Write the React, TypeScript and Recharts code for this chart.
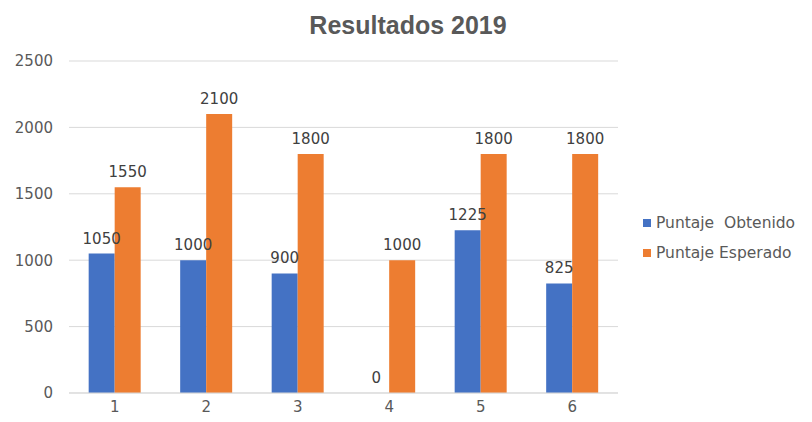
import { BarChart, Bar, XAxis, YAxis, CartesianGrid, Legend, LabelList } from "recharts";

const categories = ["1", "2", "3", "4", "5", "6"];
const obtenido = [1050, 1000, 900, 0, 1225, 825];
const esperado = [1550, 2100, 1800, 1000, 1800, 1800];
const yTicks = [0, 500, 1000, 1500, 2000, 2500];

const seriesNames = ["Puntaje  Obtenido", "Puntaje Esperado"];
const seriesColors = ["#4472C4", "#ED7D31"];

const data = categories.map((c, i) => ({
  name: c,
  obtenido: obtenido[i],
  esperado: esperado[i],
}));

const FONT = "'DejaVu Sans', sans-serif";

// simple two-row legend like the Excel one
const LegendBox = () => (
  <div style={{ fontFamily: FONT, fontSize: 15.5, color: "#595959" }}>
    {seriesNames.map((n, i) => (
      <div key={n} style={{ display: "flex", alignItems: "center", height: 30 }}>
        <span style={{ width: 8, height: 8, background: seriesColors[i], marginRight: 5, marginLeft: 3 }} />
        <span style={{ whiteSpace: "pre" }}>{n}</span>
      </div>
    ))}
  </div>
);

export default function App() {
  return (
    <div style={{ position: "absolute", left: 0, top: 0, width: 812, height: 422, background: "#fff" }}>
      <div
        style={{
          position: "absolute",
          top: 11,
          left: 0,
          width: 816,
          textAlign: "center",
          fontFamily: "'Liberation Sans', Arial, sans-serif",
          fontWeight: "bold",
          fontSize: 25,
          color: "#595959",
        }}
      >
        Resultados 2019
      </div>
      <BarChart
        width={812}
        height={422}
        data={data}
        margin={{ top: 61, right: 22, bottom: 4, left: 0 }}
        barCategoryGap="21.5%"
        barGap={0}
      >
        <CartesianGrid vertical={false} stroke="#d9d9d9" />
        <XAxis
          dataKey="name"
          height={25}
          axisLine={{ stroke: "#d9d9d9" }}
          tickLine={false}
          tick={{ fill: "#595959", fontSize: 15, fontFamily: FONT }}
        />
        <YAxis
          width={69}
          domain={[0, 2500]}
          ticks={yTicks}
          axisLine={false}
          tickLine={false}
          tickMargin={10}
          tick={{ fill: "#595959", fontSize: 15, fontFamily: FONT }}
        />
        <Legend
          layout="vertical"
          align="right"
          verticalAlign="middle"
          content={<LegendBox />}
          wrapperStyle={{ left: 640, top: 208, width: 172 }}
        />
        <Bar dataKey="obtenido" name={seriesNames[0]} fill={seriesColors[0]} minPointSize={0.01} isAnimationActive={false}>
          <LabelList dataKey="obtenido" position="top" offset={10} fill="#404040" fontSize={15} fontFamily={FONT} />
        </Bar>
        <Bar dataKey="esperado" name={seriesNames[1]} fill={seriesColors[1]} isAnimationActive={false}>
          <LabelList dataKey="esperado" position="top" offset={10} fill="#404040" fontSize={15} fontFamily={FONT} />
        </Bar>
      </BarChart>
    </div>
  );
}
